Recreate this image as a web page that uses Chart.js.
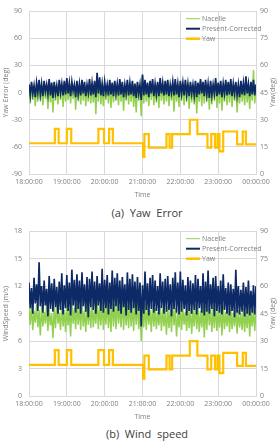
<!DOCTYPE html>
<html>
<head>
<meta charset="utf-8">
<script src="https://cdn.jsdelivr.net/npm/chart.js@4.4.1/dist/chart.umd.min.js"></script>
<style>
  html, body { margin: 0; padding: 0; background: #fff; width: 278px; height: 441px; overflow: hidden; }
  .box { position: absolute; left: 0; width: 278px; }
  .cap { position: absolute; left: 0; width: 294px; text-align: center; font-family: "Open Sans", sans-serif; font-size: 11px; color: #404040; }
</style>
</head>
<body>
<div class="box" style="top:0;height:202px"><canvas id="errChart" width="278" height="202"></canvas></div>
<div class="cap" style="top:205px">(a)&nbsp; Yaw&nbsp; Error</div>
<div class="box" style="top:220px;height:204px"><canvas id="wsChart" width="278" height="204"></canvas></div>
<div class="cap" style="top:426px">(b)&nbsp; Wind&nbsp; speed</div>
<script>
  // time axis: minutes from 18:00, ticks every hour
  const timeLabels = ["18:00:00", "19:00:00", "20:00:00", "21:00:00", "22:00:00", "23:00:00", "00:00:00"];
  const STEP = 2; // minutes between samples of the noisy series

  // yaw (deg) step changes: start minute and value
  const yawTimes = [0, 41, 47, 60, 67, 110, 119, 127, 133, 181, 183, 190, 218, 223, 227, 255, 267, 283, 289, 295, 299, 302, 308, 330, 339, 344, 360];
  const yawValues = [17, 25, 17, 25, 17, 25, 17, 25, 17, 9.5, 22, 14.5, 22, 14.5, 22, 30, 22, 14.5, 22, 14.5, 22, 12.5, 23.5, 16.4, 23.5, 16.4, 16.4];

  // yaw error (deg)
  const errCorrected = [
    9,-3,12,-1,8,-5,11,0,14,-2,
    10,-4,13,1,9,-2,15,-3,11,-6,
    12,-1,8,-4,14,0,10,-3,13,-2,
    16,-1,11,-4,12,2,9,-5,13,-2,
    10,-3,14,-1,12,-4,9,0,15,-3,
    11,-2,13,-5,22,-1,17,-3,10,-4,
    12,0,9,-3,14,-2,11,-4,13,-1,
    10,-3,15,-2,12,-5,9,-1,14,-3,
    11,-2,13,-4,10,-6,12,-1,9,-8,
    20,-3,14,-2,11,-5,13,-1,15,-4,
    10,-2,12,-4,16,-1,11,-3,13,-2,
    14,-4,9,0,12,-3,15,-2,10,-5,
    13,-1,11,-3,14,-2,10,-4,12,-1,
    9,-3,13,-5,11,-2,15,-1,12,-4,
    14,-2,10,-6,13,-3,9,-1,16,-4,
    11,-2,13,-5,10,-1,14,-3,12,-2,
    15,-4,10,-1,12,-3,9,-5,13,-2,
    11,-3,18,-1,10,-4,12,-2,14,-3,
    9
  ];
  const errNacelle = [
    6,-12,10,-8,5,-15,9,-10,12,-9,
    7,-14,11,-7,8,-18,12,-11,9,-22,
    10,-9,6,-13,12,-8,9,-16,11,-10,
    13,-8,9,-12,10,-7,8,-19,11,-9,
    8,-13,12,-9,10,-15,7,-10,13,-12,
    9,-11,11,-24,18,-10,14,-13,8,-15,
    10,-8,7,-12,12,-17,9,-11,11,-9,
    8,-14,13,-10,10,-20,7,-9,12,-13,
    9,-10,11,-16,8,-22,10,-9,7,-26,
    19,-12,12,-10,9,-15,11,-8,13,-14,
    8,-11,10,-17,14,-9,9,-13,11,-10,
    12,-15,7,-9,10,-21,13,-10,8,-16,
    11,-9,9,-14,12,-10,8,-18,10,-11,
    7,-13,11,-23,9,-10,13,-15,10,-12,
    12,-10,8,-19,11,-13,7,-9,14,-17,
    9,-12,11,-20,8,-10,12,-14,10,-11,
    13,-16,8,-9,10,-22,7,-12,11,-10,
    9,-14,16,-11,8,-18,10,-9,25,-12,
    8
  ];

  // wind speed (m/s)
  const wsCorrected = [
    12.4,9.6,11.8,9.0,12.9,10.1,12.2,9.3,14.6,9.8,
    12.0,9.1,12.6,9.9,11.7,8.7,13.1,9.5,12.3,9.2,
    12.8,9.7,11.9,9.0,12.5,9.4,13.4,8.9,12.1,9.6,
    13.2,9.3,12.4,8.8,13.8,9.9,12.7,9.1,13.3,9.5,
    12.6,9.0,13.5,9.8,12.2,9.2,13.0,8.6,12.8,9.7,
    13.6,9.4,12.5,9.0,13.1,9.9,12.3,9.3,13.9,9.1,
    12.7,9.6,13.2,8.9,12.4,9.5,13.7,9.2,12.9,9.8,
    13.4,9.3,12.6,9.0,13.0,9.7,12.2,8.8,13.5,9.4,
    12.8,9.1,13.3,9.6,12.5,8.9,13.0,9.3,12.4,7.6,
    12.1,9.0,13.6,9.4,12.3,8.8,12.9,9.5,13.2,9.1,
    12.6,9.3,12.0,8.9,13.4,9.6,12.5,9.0,12.8,9.2,
    13.1,9.4,12.2,8.7,12.9,9.5,13.5,9.1,12.4,8.9,
    13.6,9.2,12.7,9.5,12.1,8.8,13.0,9.3,12.6,9.0,
    12.3,9.4,13.2,8.9,12.8,9.6,12.0,9.1,13.4,8.8,
    12.5,9.2,13.7,9.0,12.2,9.5,12.9,8.7,13.1,9.3,
    12.0,9.1,12.6,8.9,13.3,9.4,11.8,9.0,12.4,8.8,
    12.2,9.3,11.7,8.6,13.8,9.1,12.0,8.9,11.6,9.2,
    12.4,8.7,11.9,9.0,12.6,8.8,11.5,9.1,12.1,8.9,
    12.0
  ];
  const wsNacelle = [
    9.6,7.8,9.9,7.2,9.3,8.0,10.0,7.5,9.4,6.6,
    9.8,7.6,9.2,7.9,10.1,7.1,9.5,7.7,9.0,6.3,
    9.7,7.4,10.2,7.9,9.1,7.2,9.8,7.6,9.4,7.0,
    10.0,7.7,9.5,6.5,10.3,7.9,9.6,7.3,10.1,7.8,
    9.8,7.2,10.4,7.6,9.3,7.0,10.0,7.8,9.7,7.4,
    10.2,7.5,9.4,7.9,10.5,7.3,9.9,7.7,10.3,7.2,
    9.6,7.8,10.4,7.4,9.9,7.0,10.6,7.6,10.1,7.3,
    10.5,7.9,9.8,7.5,10.7,7.2,10.2,7.7,9.9,7.4,
    10.6,7.6,10.0,7.1,10.4,7.8,10.3,7.3,9.7,6.0,
    9.5,7.5,10.1,7.2,9.7,7.8,9.4,7.0,10.0,7.6,
    9.6,7.3,9.2,7.7,9.9,7.1,9.5,7.6,9.3,6.7,
    9.8,7.4,9.4,7.0,10.0,7.7,9.6,6.5,9.1,7.5,
    9.9,7.2,9.5,7.8,9.2,7.1,9.8,7.4,9.6,6.8,
    9.4,7.6,10.0,7.3,9.7,7.0,9.3,7.5,9.9,6.4,
    9.8,7.2,10.1,7.7,9.5,7.0,9.7,7.4,9.9,7.1,
    9.3,7.5,9.7,6.6,10.0,7.3,9.2,7.6,9.6,7.0,
    9.5,7.3,9.1,7.6,9.8,6.8,9.4,7.5,9.0,7.2,
    9.6,7.0,9.2,7.4,9.9,6.5,9.3,7.6,9.5,7.1,
    9.4
  ];

  const GREEN = "#92D050", NAVY = "#0D2A66", GOLD = "#FFC000";
  const FONT = '"Open Sans", sans-serif';
  const toPts = arr => arr.map((v, i) => ({ x: i * STEP, y: v }));
  const yawPts = yawTimes.map((t, i) => ({ x: t, y: yawValues[i] }));

  const overlay = {
    id: "overlay",
    afterDraw(chart, args, o) {
      const { ctx, chartArea: a } = chart;
      ctx.save();
      ctx.fillStyle = "#7f7f7f";
      ctx.font = "7px " + FONT;
      ctx.textAlign = "center";
      ctx.textBaseline = "middle";
      const cy = (a.top + a.bottom) / 2;
      [[6, o.left], [273, o.right]].forEach(([x, t]) => {
        ctx.save();
        ctx.translate(x, cy);
        ctx.rotate(-Math.PI / 2);
        ctx.fillText(t, 0, 0);
        ctx.restore();
      });
      ctx.fillText("Time", (a.left + a.right) / 2, a.bottom + 21);
      // legend inside the plot, top right
      const items = [["Nacelle", GREEN, 1], ["Present-Corrected", NAVY, 2], ["Yaw", GOLD, 2.5]];
      ctx.textAlign = "left";
      items.forEach(([t, c, w], i) => {
        const y = a.top + 7.5 + i * 10;
        ctx.strokeStyle = c;
        ctx.lineWidth = w;
        ctx.beginPath();
        ctx.moveTo(186, y);
        ctx.lineTo(200, y);
        ctx.stroke();
        ctx.fillStyle = "#7f7f7f";
        ctx.fillText(t, 202, y);
      });
      ctx.restore();
    }
  };

  function makeChart(id, corrected, nacelle, leftMin, leftMax, leftStep, padTop, leftTitle, rightTitle) {
    return new Chart(document.getElementById(id), {
      type: "line",
      data: {
        datasets: [
          { label: "Yaw", data: yawPts, yAxisID: "y2", borderColor: GOLD, borderWidth: 2.2, stepped: true },
          { label: "Present-Corrected", data: toPts(corrected), yAxisID: "y", borderColor: NAVY, borderWidth: 1.7 },
          { label: "Nacelle", data: toPts(nacelle), yAxisID: "y", borderColor: GREEN, borderWidth: 1.5 }
        ]
      },
      options: {
        responsive: false,
        animation: false,
        layout: { padding: { top: padTop } },
        elements: { point: { radius: 0 }, line: { tension: 0 } },
        plugins: {
          legend: { display: false },
          tooltip: { enabled: false },
          overlay: { left: leftTitle, right: rightTitle }
        },
        scales: {
          x: {
            type: "linear", min: 0, max: 360,
            afterFit: s => { s.height = 28; },
            ticks: { stepSize: 60, padding: 4, color: "#7f7f7f", font: { family: FONT, size: 7 }, maxRotation: 0,
                     callback: v => timeLabels[v / 60] },
            grid: { color: "#d9d9d9", drawTicks: false },
            border: { color: "#d9d9d9" }
          },
          y: {
            position: "left", min: leftMin, max: leftMax,
            afterFit: s => { s.width = 29; },
            ticks: { stepSize: leftStep, padding: 7, color: "#7f7f7f", font: { family: FONT, size: 7 } },
            grid: { color: "#d9d9d9", drawTicks: false },
            border: { color: "#d9d9d9" }
          },
          y2: {
            position: "right", min: 0, max: 90,
            afterFit: s => { s.width = 22; },
            ticks: { stepSize: 15, padding: 4, color: "#7f7f7f", font: { family: FONT, size: 7 } },
            grid: { display: false, drawTicks: false },
            border: { color: "#d9d9d9" }
          }
        }
      },
      plugins: [overlay]
    });
  }

  makeChart("errChart", errCorrected, errNacelle, -90, 90, 30, 9, "Yaw Error (deg)", "Yaw(deg)");
  makeChart("wsChart", wsCorrected, wsNacelle, 0, 18, 3, 10, "WindSpeed (m/s)", "Yaw (deg)");
</script>
</body>
</html>
